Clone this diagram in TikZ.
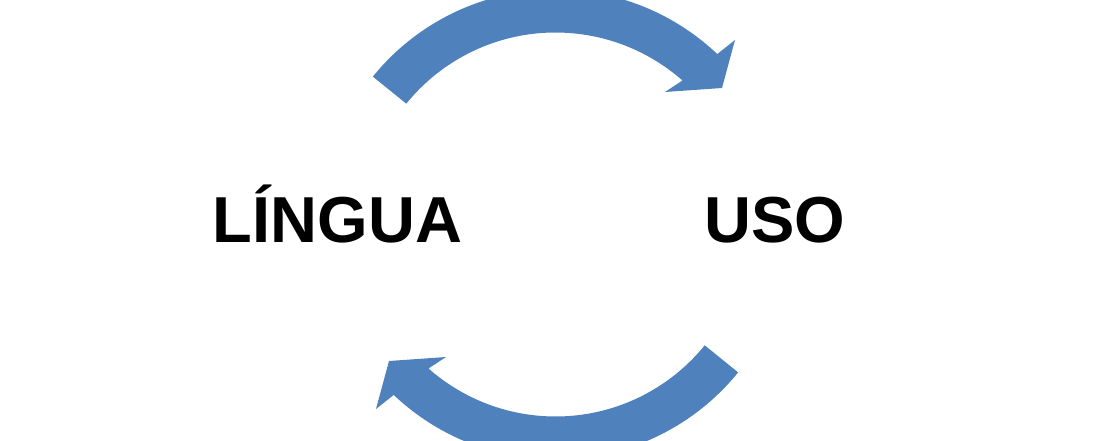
\documentclass[tikz,border=0pt]{standalone}
\usepackage{fontspec}
\setmainfont{Liberation Sans}
\definecolor{arrowblue}{RGB}{79,129,189}
\tikzset{
  wordlabel/.style={font=\fontsize{32.5}{39}\selectfont\bfseries, inner sep=0pt, anchor=base, text=black},
  curvedarrow/.pic={
    \fill[arrowblue] (141:235) arc[start angle=141,end angle=46.5,radius=235]
      -- (179.5,184.5) -- (166.5,136.5) -- (109.5,132.5)
      -- (48.6:192) arc[start angle=48.6,end angle=141,radius=192] -- cycle;
  }
}
\begin{document}
\begin{tikzpicture}[x=0.5pt,y=0.5pt]
\useasboundingbox (0,0) rectangle (1100,440);
\clip (0,0) rectangle (1100,440);
\coordinate (C) at (555.5,215.5);
\pic (toparrow) at (C) {curvedarrow};
\pic[rotate=180] (bottomarrow) at (C) {curvedarrow};
\node[wordlabel] (lingua) at (337.5,198) {LÍNGUA};
\node[wordlabel] (uso) at (775,198) {USO};
\end{tikzpicture}
\end{document}
